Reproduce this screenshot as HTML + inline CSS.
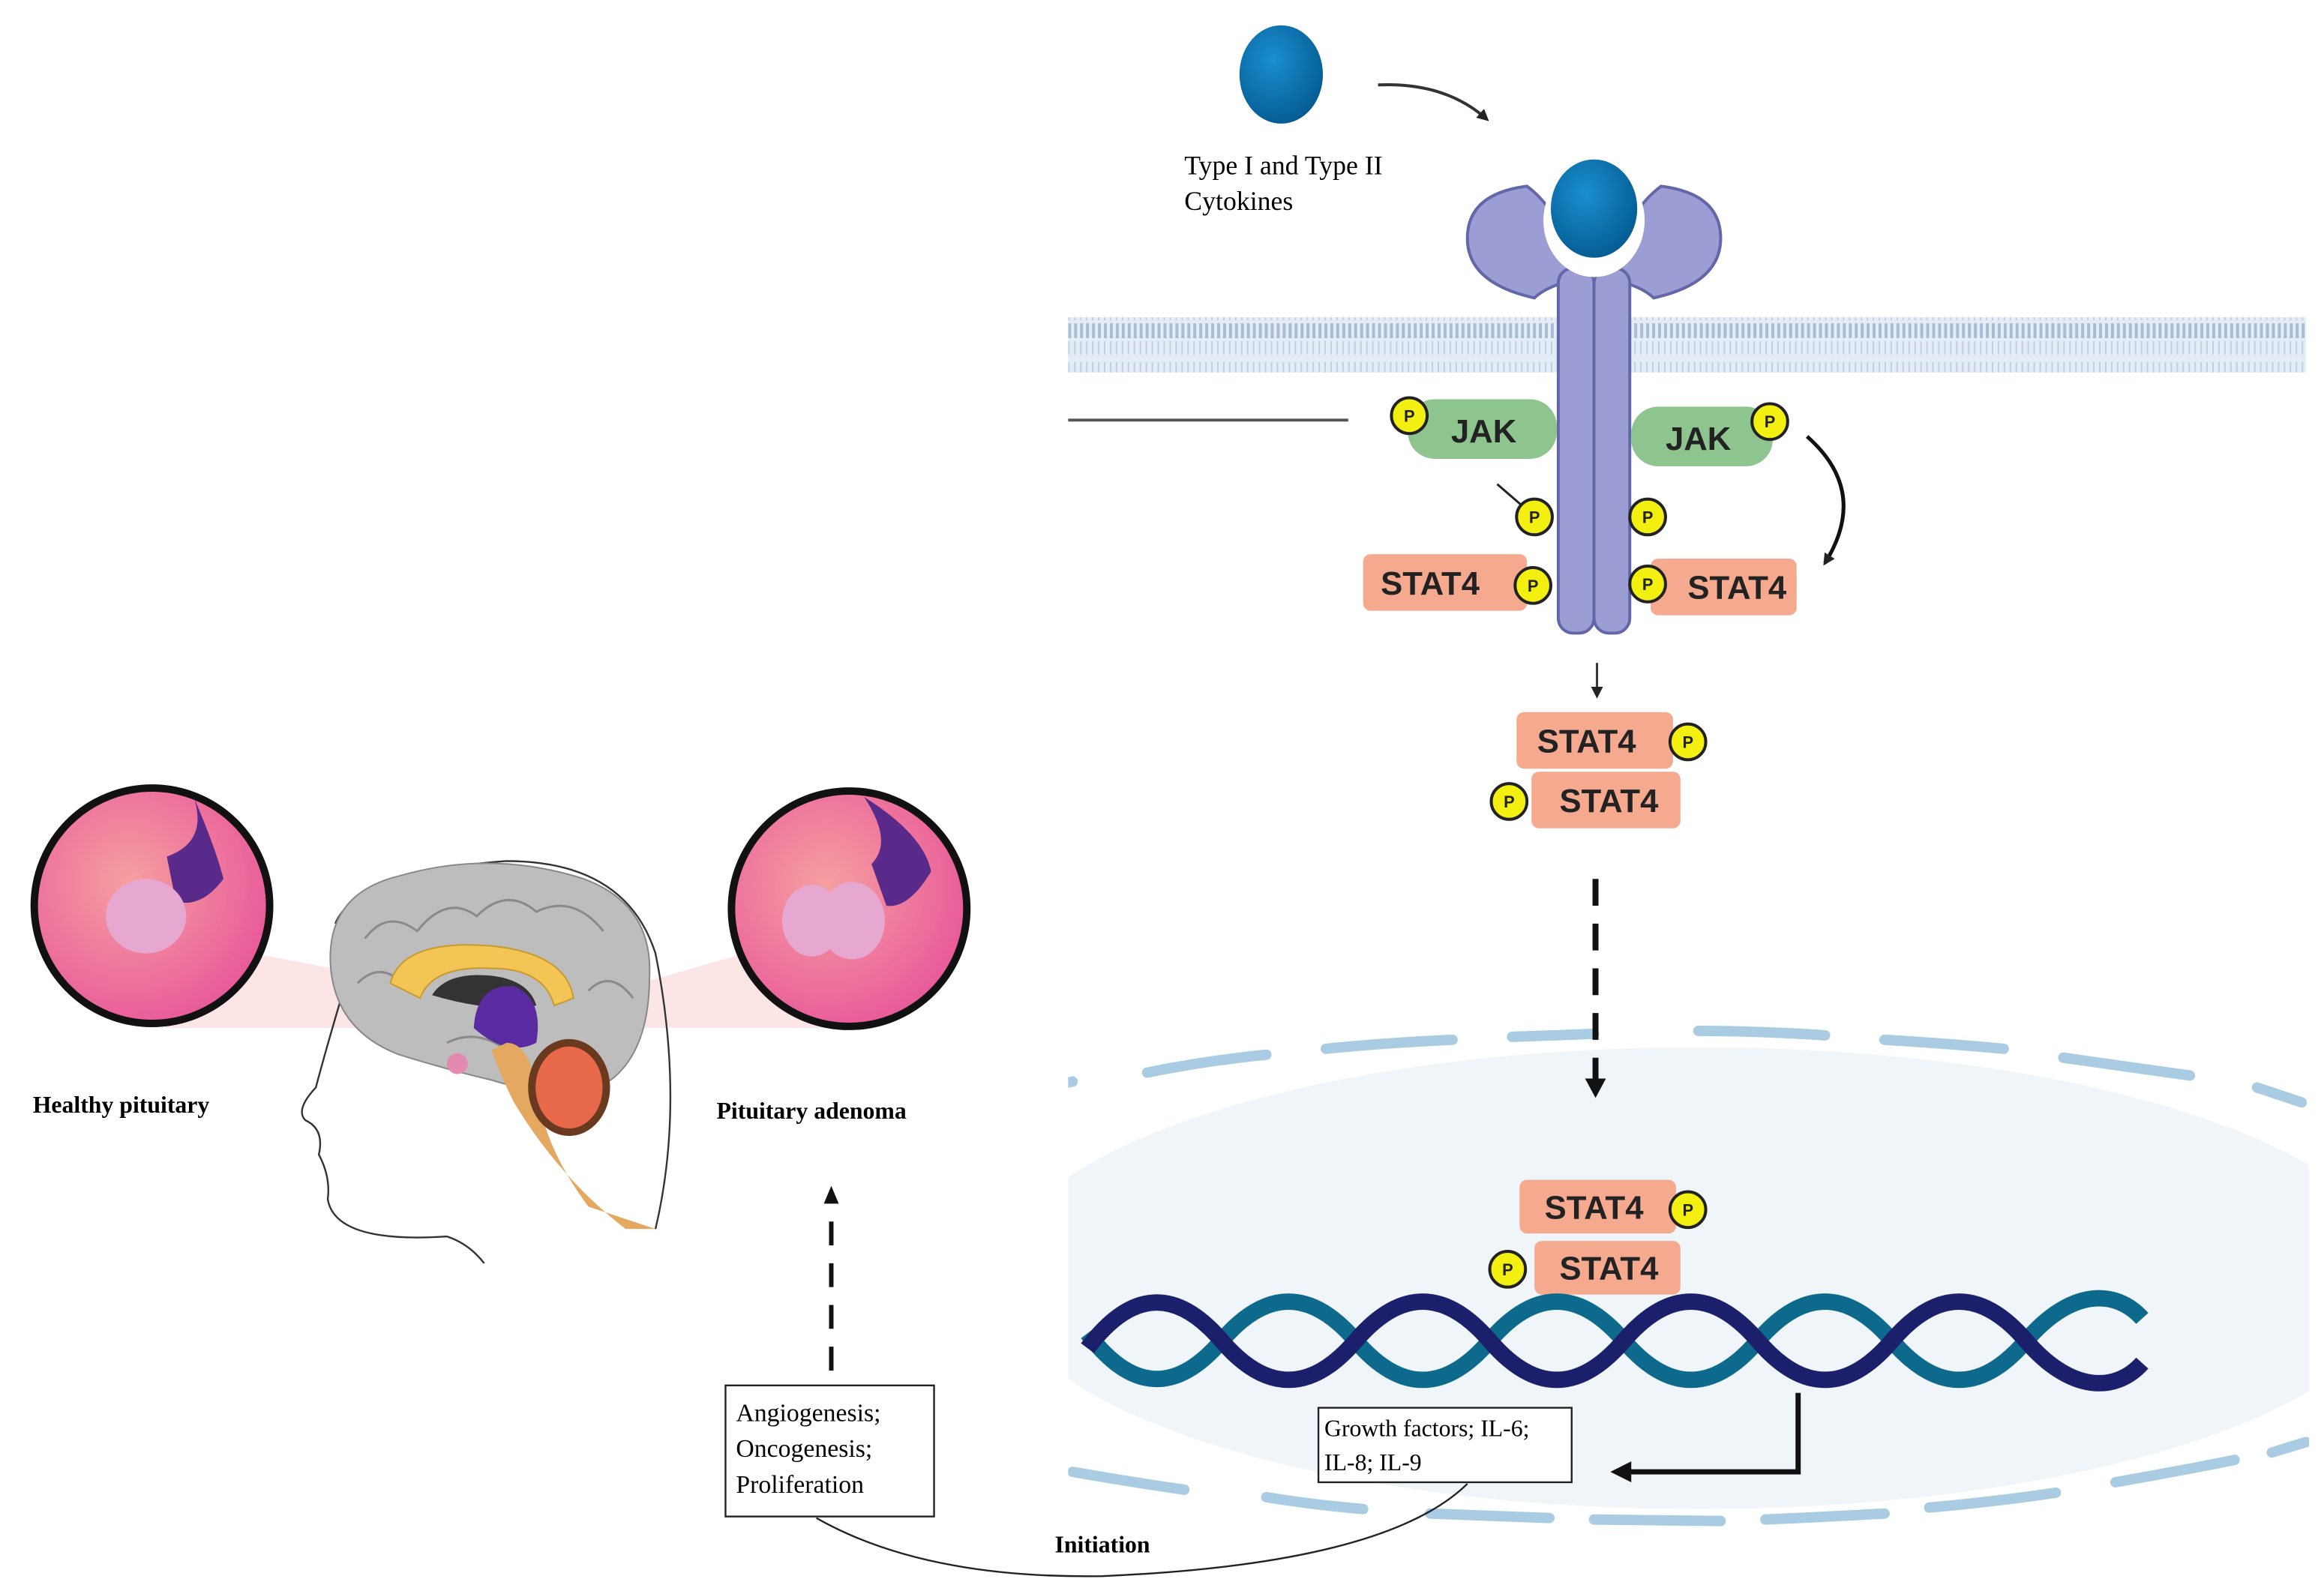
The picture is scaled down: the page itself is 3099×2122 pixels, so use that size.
<!DOCTYPE html>
<html><head><meta charset="utf-8"><style>
html,body{margin:0;padding:0;background:#fff;width:3099px;height:2122px;overflow:hidden}
svg{display:block}
text{font-family:"Liberation Serif",serif}
.b{font-family:"Liberation Sans",sans-serif;font-weight:bold}
</style></head><body>
<svg width="3099" height="2122" viewBox="0 0 1560 1068" preserveAspectRatio="none" xmlns="http://www.w3.org/2000/svg">
<defs>
<radialGradient id="bl" cx="40%" cy="35%" r="70%"><stop offset="0" stop-color="#1a8fd0"/><stop offset="1" stop-color="#045a90"/></radialGradient>
<radialGradient id="pk" cx="40%" cy="40%" r="65%"><stop offset="0" stop-color="#f6a0a0"/><stop offset="1" stop-color="#e8589a"/></radialGradient>
<pattern id="mem" width="4" height="37" patternUnits="userSpaceOnUse"><rect width="4" height="37" fill="#e4ecf5"/><rect x="1" y="0" width="2" height="5" fill="#a8bcd6"/><rect x="1" y="7" width="1" height="9" fill="#c0d0e4"/><rect x="1" y="21" width="1" height="9" fill="#c0d0e4"/><rect x="1" y="32" width="2" height="5" fill="#a8bcd6"/></pattern>
<marker id="ah" markerWidth="8" markerHeight="8" refX="6" refY="4" orient="auto" markerUnits="userSpaceOnUse"><path d="M0,0 L8,4 L0,8 z" fill="#222"/></marker>
<marker id="ah2" markerWidth="14" markerHeight="14" refX="10" refY="7" orient="auto" markerUnits="userSpaceOnUse"><path d="M0,0 L14,7 L0,14 z" fill="#111"/></marker>
<clipPath id="cr"><rect x="717" y="0" width="833" height="1068"/></clipPath>
</defs>

<!-- nucleus -->
<g clip-path="url(#cr)">
<ellipse cx="1140" cy="858" rx="470" ry="155" fill="#f0f5fa"/>
<g fill="none" stroke="#a9cce2" stroke-width="7" stroke-linecap="round">
<path d="M700,730 L720,726"/><path d="M770,720 Q810,712 850,708"/><path d="M890,704 Q930,700 975,698"/><path d="M1015,696 L1070,694"/><path d="M1140,692 Q1180,692 1225,695"/><path d="M1265,698 Q1300,700 1345,704"/><path d="M1385,710 Q1420,715 1470,722"/><path d="M1515,730 L1545,740"/>
<path d="M720,988 Q760,995 795,1000"/><path d="M850,1005 Q880,1010 915,1013"/><path d="M960,1016 L1040,1019"/><path d="M1070,1020 L1155,1021"/><path d="M1185,1020 Q1230,1018 1265,1016"/><path d="M1295,1012 Q1340,1008 1380,1002"/><path d="M1420,995 Q1460,988 1500,980"/><path d="M1525,975 L1548,968"/>
</g>
</g>

<!-- membrane -->
<rect x="717" y="213" width="831" height="37" fill="url(#mem)"/>
<line x1="717" y1="282" x2="905" y2="282" stroke="#555" stroke-width="2"/>

<!-- cytokine free -->
<ellipse cx="860" cy="50" rx="28" ry="33" fill="url(#bl)"/>
<path d="M925,57 Q970,55 998,80" fill="none" stroke="#333" stroke-width="2" marker-end="url(#ah)"/>
<text x="795" y="117" font-size="18">Type I and Type II</text>
<text x="795" y="141" font-size="18">Cytokines</text>

<!-- receptor -->
<g fill="#9c9dd4" stroke="#6366a8" stroke-width="2">
<path d="M1070,185 Q1040,190 1030,200 Q985,190 985,160 Q985,130 1025,125 Q1045,140 1050,165 Z"/>
<path d="M1070,185 Q1100,190 1110,200 Q1155,190 1155,160 Q1155,130 1115,125 Q1095,140 1090,165 Z"/>
<rect x="1046" y="180" width="24" height="245" rx="10"/>
<rect x="1070" y="180" width="24" height="245" rx="10"/>
</g>
<ellipse cx="1070" cy="148" rx="34" ry="38" fill="#fff"/>
<ellipse cx="1070" cy="140" rx="29" ry="33" fill="url(#bl)"/>

<!-- JAK -->
<rect x="945" y="268" width="100" height="40" rx="18" fill="#8ec48e"/>
<text x="996" y="297" font-size="22" class="b" text-anchor="middle" fill="#222">JAK</text>
<rect x="1095" y="273" width="95" height="40" rx="18" fill="#8ec48e"/>
<text x="1140" y="302" font-size="22" class="b" text-anchor="middle" fill="#222">JAK</text>
<path d="M1213,293 Q1255,330 1225,378" fill="none" stroke="#111" stroke-width="2.5" marker-end="url(#ah)"/>
<line x1="1005" y1="325" x2="1027" y2="344" stroke="#222" stroke-width="1.5" marker-end="url(#ah)"/>

<!-- STAT4 at receptor -->
<rect x="915" y="372" width="110" height="38" rx="5" fill="#f5a98e"/>
<text x="960" y="399" font-size="22" class="b" text-anchor="middle" fill="#222">STAT4</text>
<rect x="1108" y="375" width="98" height="38" rx="5" fill="#f5a98e"/>
<text x="1166" y="402" font-size="22" class="b" text-anchor="middle" fill="#222">STAT4</text>

<line x1="1072" y1="445" x2="1072" y2="467" stroke="#333" stroke-width="1.5" marker-end="url(#ah)"/>

<!-- STAT4 dimer cytoplasm -->
<rect x="1018" y="478" width="105" height="38" rx="5" fill="#f5a98e"/>
<text x="1065" y="505" font-size="22" class="b" text-anchor="middle" fill="#222">STAT4</text>
<rect x="1028" y="518" width="100" height="38" rx="5" fill="#f5a98e"/>
<text x="1080" y="545" font-size="22" class="b" text-anchor="middle" fill="#222">STAT4</text>

<line x1="1071" y1="590" x2="1071" y2="725" stroke="#111" stroke-width="4" stroke-dasharray="18,12"/>
<path d="M1064,724 L1078,724 L1071,737 z" fill="#111"/>

<!-- STAT4 dimer nucleus -->
<rect x="1020" y="792" width="105" height="36" rx="5" fill="#f5a98e"/>
<text x="1070" y="818" font-size="22" class="b" text-anchor="middle" fill="#222">STAT4</text>
<rect x="1030" y="833" width="98" height="36" rx="5" fill="#f5a98e"/>
<text x="1080" y="859" font-size="22" class="b" text-anchor="middle" fill="#222">STAT4</text>

<!-- P circles -->
<g fill="#f3f011" stroke="#222" stroke-width="2">
<circle cx="946" cy="279" r="12"/><circle cx="1188" cy="283" r="12"/>
<circle cx="1030" cy="347" r="12"/><circle cx="1106" cy="347" r="12"/>
<circle cx="1029" cy="393" r="12"/><circle cx="1106" cy="392" r="12"/>
<circle cx="1133" cy="498" r="12"/><circle cx="1013" cy="538" r="12"/>
<circle cx="1133" cy="812" r="12"/><circle cx="1012" cy="852" r="12"/>
</g>
<g font-size="11" class="b" text-anchor="middle" fill="#222">
<text x="946" y="283" class="b">P</text><text x="1188" y="287" class="b">P</text>
<text x="1030" y="351" class="b">P</text><text x="1106" y="351" class="b">P</text>
<text x="1029" y="397" class="b">P</text><text x="1106" y="396" class="b">P</text>
<text x="1133" y="502" class="b">P</text><text x="1013" y="542" class="b">P</text>
<text x="1133" y="816" class="b">P</text><text x="1012" y="856" class="b">P</text>
</g>

<!-- DNA -->
<path d="M730,895 C760,935 790,935 820,900 C850,865 880,865 910,900 C940,935 970,935 1000,900 C1030,865 1060,865 1090,900 C1120,935 1150,935 1180,900 C1210,865 1240,865 1270,900 C1300,935 1330,935 1360,900 C1390,865 1420,865 1438,885" fill="none" stroke="#0d6a8c" stroke-width="11"/>
<path d="M730,905 C760,865 790,865 820,900 C850,935 880,935 910,900 C940,865 970,865 1000,900 C1030,935 1060,935 1090,900 C1120,865 1150,865 1180,900 C1210,935 1240,935 1270,900 C1300,865 1330,865 1360,900 C1390,935 1420,935 1438,915" fill="none" stroke="#1c1f6c" stroke-width="11"/>

<!-- output connector -->
<path d="M1207,935 L1207,988 L1085,988" fill="none" stroke="#111" stroke-width="3.5" marker-end="url(#ah2)"/>
<rect x="885" y="945" width="170" height="50" fill="#fff" stroke="#222" stroke-width="1.2"/>
<text x="889" y="964" font-size="16">Growth factors; IL-6;</text>
<text x="889" y="987" font-size="16">IL-8; IL-9</text>

<rect x="487" y="930" width="140" height="88" fill="#fff" stroke="#222" stroke-width="1.2"/>
<text x="494" y="954" font-size="17">Angiogenesis;</text>
<text x="494" y="978" font-size="17">Oncogenesis;</text>
<text x="494" y="1002" font-size="17">Proliferation</text>
<path d="M548,1019 Q620,1060 740,1058 Q930,1050 985,996" fill="none" stroke="#222" stroke-width="1.2"/>
<text x="740" y="1042" font-size="16" font-weight="bold" text-anchor="middle">Initiation</text>

<line x1="558" y1="920" x2="558" y2="808" stroke="#111" stroke-width="3" stroke-dasharray="16,12"/>
<path d="M553,808 L563,808 L558,796 z" fill="#111"/>

<!-- magnifier cones -->
<path d="M170,640 L250,655 L250,690 L110,690 Z" fill="#fadada" opacity="0.7"/>
<path d="M500,640 L430,660 L430,690 L560,690 Z" fill="#fadada" opacity="0.7"/>

<!-- head -->
<path d="M225,620 Q240,585 340,578 Q420,578 440,640 Q460,740 440,825 M232,660 Q220,700 212,730 Q198,745 205,752 Q218,758 214,775 Q222,790 220,805 Q225,835 300,830 Q315,835 325,848" fill="none" stroke="#333" stroke-width="1.2"/>
<!-- brain -->
<path d="M222,650 Q218,600 268,588 Q330,570 392,590 Q438,607 436,655 Q436,705 410,725 Q370,738 330,725 Q300,718 268,708 Q226,692 222,650 Z" fill="#bdbdbd" stroke="#888" stroke-width="1"/>
<g fill="none" stroke="#8a8a8a" stroke-width="1.5">
<path d="M245,630 Q260,610 280,625 Q300,600 320,615 Q340,595 360,612 Q385,600 405,625"/>
<path d="M240,660 Q255,645 270,660"/><path d="M395,665 Q410,650 425,670"/><path d="M300,700 Q320,690 340,705"/>
</g>
<path d="M262,660 Q270,630 330,635 Q380,640 385,670 L372,675 Q365,650 330,650 Q290,648 282,670 Z" fill="#f2c555" stroke="#c89a30"/>
<path d="M290,668 Q300,652 330,655 Q355,658 360,675 Q330,680 290,668Z" fill="#333"/>
<path d="M318,690 Q320,660 345,662 Q365,670 360,700 Q340,710 318,690Z" fill="#5a2aa0"/>
<circle cx="307" cy="714" r="7" fill="#e48ab0"/>
<path d="M340,700 Q355,700 360,730 Q365,770 395,810 L440,825 L420,825 Q375,790 345,740 Q335,720 330,705 Z" fill="#e4a860"/>
<ellipse cx="382" cy="730" rx="25" ry="30" fill="#e8694a" stroke="#6a3a20" stroke-width="5"/>

<!-- circles -->
<circle cx="102" cy="608" r="79" fill="url(#pk)" stroke="#111" stroke-width="5"/>
<path d="M130,535 Q145,570 150,590 Q135,610 118,605 L112,575 Q140,565 130,535Z" fill="#5a2a8a"/>
<ellipse cx="98" cy="615" rx="27" ry="25" fill="#e6a8d0"/>
<circle cx="570" cy="610" r="79" fill="url(#pk)" stroke="#111" stroke-width="5"/>
<path d="M580,535 Q620,560 625,585 Q610,610 595,608 L585,580 Q600,565 580,535Z" fill="#5a2a8a"/>
<ellipse cx="545" cy="618" rx="20" ry="24" fill="#e6a8d0"/>
<ellipse cx="572" cy="618" rx="22" ry="26" fill="#e6a8d0"/>

<text x="22" y="747" font-size="16" font-weight="bold">Healthy pituitary</text>
<text x="481" y="751" font-size="16" font-weight="bold">Pituitary adenoma</text>
</svg>
</body></html>
